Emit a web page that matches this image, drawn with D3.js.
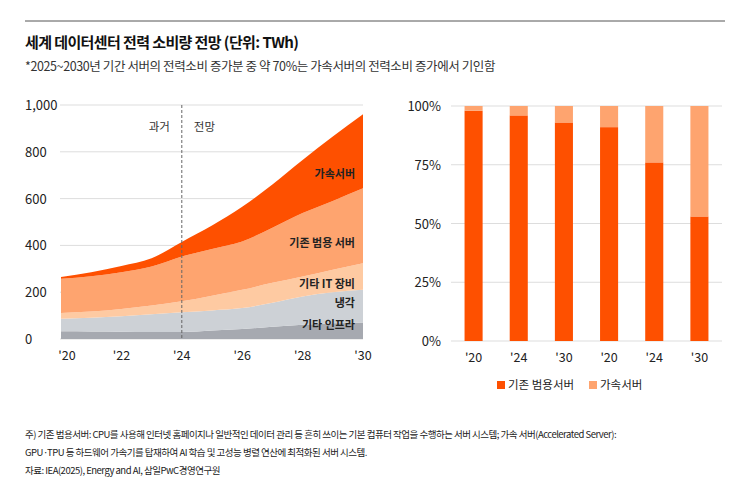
<!DOCTYPE html>
<html><head><meta charset="utf-8">
<script src="https://cdn.jsdelivr.net/npm/d3@7"></script>
<style>body{margin:0;background:#fff;font-family:"Noto Sans CJK KR","Noto Sans",sans-serif;}</style>
</head><body><svg id="c" width="745" height="489"></svg>
<script>
const years = [2020,2021,2022,2023,2024,2025,2026,2027,2028,2029,2030];
const infra   = [33,32,31,30,30,36,43,52,61,67,71];
const cooling = [54,59,66,76,84,86,89,103,121,133,139];
const otherIT = [24,26,31,37,47,63,78,85,85,96,114];
const general = [146,151,157,167,192,200,207,235,271,294,320];
const accel   = [8,17,27,35,62,100,148,185,227,275,316];
const layerNames = ["기타 인프라","냉각","기타 IT 장비","기존 범용 서버","가속서버"];
const layerColors = ["#a6a9b0","#cdd1d6","#fecaa2","#fea46f","#fe5000"];
const leftTicks = [0,200,400,600,800,1000];
const leftXTicks = [2020,2022,2024,2026,2028,2030];

const barCats = ["'20","'24","'30","'20 ","'24 ","'30 "];
const barGeneral = [98,96,93,91,76,53];
const barAccel = barGeneral.map(v=>100-v);
const barTicks = [0,25,50,75,100];

const svg = d3.select("#c");
const KR = '"Noto Sans CJK KR",sans-serif';
svg.append("line").attr("x1",25).attr("x2",725).attr("y1",21).attr("y2",21).attr("stroke","#555").attr("stroke-width",1);
svg.append("text").attr("x",25).attr("y",48).attr("font-size",15).attr("font-weight",700).attr("letter-spacing",-0.6).attr("fill","#111").text("세계 데이터센터 전력 소비량 전망 (단위: TWh)");
svg.append("text").attr("x",25).attr("y",71).attr("font-size",12.5).attr("letter-spacing",-0.4).attr("fill","#333").text("*2025~2030년 기간 서버의 전력소비 증가분 중 약 70%는 가속서버의 전력소비 증가에서 기인함");

// Left chart
const x = d3.scaleLinear().domain([2020,2030]).range([61,363]);
const y = d3.scaleLinear().domain([0,1000]).range([339,105]);
const g = svg.append("g");
leftTicks.forEach(t=>{
  g.append("line").attr("x1",60).attr("x2",363).attr("y1",y(t)).attr("y2",y(t)).attr("stroke","#ddd");
  g.append("text").attr("x",25).attr("y",y(t)+5).attr("font-size",13).attr("fill","#222").attr("font-family",KR).text(d3.format(",")(t));
});
const table = years.map((yr,i)=>({yr,a:infra[i],b:cooling[i],c:otherIT[i],d:general[i],e:accel[i]}));
const stack = d3.stack().keys(["a","b","c","d","e"])(table);
const area = d3.area().x(d=>x(d.data.yr)).y0(d=>y(d[0])).y1(d=>y(d[1])).curve(d3.curveMonotoneX);
g.selectAll("path.l").data(stack).join("path").attr("d",area).attr("fill",(d,i)=>layerColors[i]);
g.append("line").attr("x1",x(2024)).attr("x2",x(2024)).attr("y1",105).attr("y2",339).attr("stroke","#666").attr("stroke-dasharray","3,2");
g.append("text").attr("x",x(2024)-12).attr("y",131).attr("text-anchor","end").attr("font-size",11.5).attr("fill","#333").text("과거");
g.append("text").attr("x",x(2024)+12).attr("y",131).attr("font-size",11.5).attr("fill","#333").text("전망");
const labY = [329,307,288,247,178];
layerNames.forEach((n,i)=>{
  g.append("text").attr("x",355).attr("y",labY[i]).attr("text-anchor","end").attr("font-size",11).attr("font-weight",700).attr("fill","#222").text(n);
});
leftXTicks.forEach(t=>{
  g.append("text").attr("x",x(t)+(t==2020?6:0)).attr("y",360).attr("text-anchor","middle").attr("font-size",12.5).attr("fill","#222").text("'"+String(t).slice(2));
});

// Right chart
const xb = d3.scaleBand().domain(barCats).range([451,722]).paddingInner(0.6).paddingOuter(0.3);
const yb = d3.scaleLinear().domain([0,100]).range([341,106]);
const g2 = svg.append("g");
barTicks.forEach(t=>{
  g2.append("line").attr("x1",451).attr("x2",722).attr("y1",yb(t)).attr("y2",yb(t)).attr("stroke","#ddd");
  g2.append("text").attr("x",441).attr("y",yb(t)+5).attr("text-anchor","end").attr("font-size",13).attr("fill","#222").text(t+"%");
});
g2.selectAll("rect.g").data(barCats).join("rect").attr("x",d=>xb(d)).attr("width",xb.bandwidth())
  .attr("y",(d,i)=>yb(barGeneral[i])).attr("height",(d,i)=>yb(0)-yb(barGeneral[i])).attr("fill","#fe5000");
g2.selectAll("rect.a").data(barCats).join("rect").attr("x",d=>xb(d)).attr("width",xb.bandwidth())
  .attr("y",(d,i)=>yb(100)).attr("height",(d,i)=>yb(barGeneral[i])-yb(100)).attr("fill","#fea46f");
barCats.forEach(c=>{
  g2.append("text").attr("x",xb(c)+xb.bandwidth()/2).attr("y",362).attr("text-anchor","middle").attr("font-size",12.5).attr("fill","#222").text(c.trim());
});
g2.append("rect").attr("x",497).attr("y",381).attr("width",8).attr("height",8).attr("fill","#fe5000");
g2.append("text").attr("x",508).attr("y",389).attr("font-size",11.5).attr("fill","#222").text("기존 범용서버");
g2.append("rect").attr("x",589).attr("y",381).attr("width",8).attr("height",8).attr("fill","#fea46f");
g2.append("text").attr("x",600).attr("y",389).attr("font-size",11.5).attr("fill","#222").text("가속서버");

// footnotes
const notes = ["주) 기존 범용서버: CPU를 사용해 인터넷 홈페이지나 일반적인 데이터 관리 등 흔히 쓰이는 기본 컴퓨터 작업을 수행하는 서버 시스템;   가속 서버(Accelerated Server):",
"GPU·TPU 등 하드웨어 가속기를 탑재하여 AI 학습 및 고성능 병렬 연산에 최적화된 서버 시스템.",
"자료: IEA(2025), Energy and AI, 삼일PwC경영연구원"];
const noteY=[438,456,474];
notes.forEach((n,i)=>svg.append("text").attr("x",25).attr("y",noteY[i]).attr("font-size",9.5).attr("letter-spacing",-0.5).attr("fill","#222").text(n));
</script></body></html>
